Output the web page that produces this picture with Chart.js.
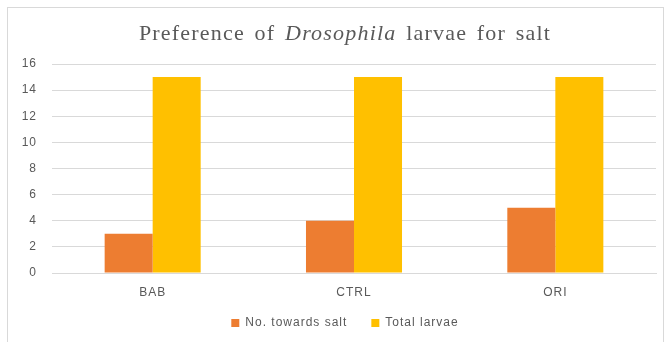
<!DOCTYPE html>
<html>
<head>
<meta charset="utf-8">
<script src="https://cdn.jsdelivr.net/npm/chart.js@4"></script>
<style>
  html, body { margin: 0; padding: 0; background: #fff; }
  #wrap { position: relative; width: 669px; height: 342px; overflow: hidden; }
  #frame { position: absolute; left: 7px; top: 7px; width: 657px; height: 345px;
           border: 1px solid #D9D9D9; box-sizing: border-box; }
  #title { position: absolute; left: 0; top: 20px; width: 690px; text-align: center;
           font-family: "Liberation Serif", "DejaVu Serif", serif; font-size: 22px;
           color: #595959; letter-spacing: 1.2px; word-spacing: 3px; white-space: nowrap; }
  canvas { position: absolute; left: 0; top: 0; }
</style>
</head>
<body>
<div id="wrap">
  <div id="frame"></div>
  <canvas id="c" width="669" height="342"></canvas>
  <div id="title">Preference of <i>Drosophila</i> larvae for salt</div>
</div>
<script>
const categories = ["BAB", "CTRL", "ORI"];
const towardsSalt = [3, 4, 5];
const totalLarvae = [15, 15, 15];
const yTicks = [0, 2, 4, 6, 8, 10, 12, 14, 16];

const tickFont = { family: "'Liberation Sans', Arial, sans-serif", size: 12 };
const LEGEND_TRIM = 7;

const tweaks = {
  id: "tweaks",
  // slightly wider letter spacing for every label drawn on the canvas
  beforeUpdate(chart) { chart.ctx.letterSpacing = "1px"; },
  beforeDraw(chart) { chart.ctx.letterSpacing = "1px"; },
  beforeLayout(chart) {
    // keep the wide gap between legend items without the extra height above them
    const lg = chart.legend;
    if (lg && !lg._trimmed) {
      const fit = lg.fit.bind(lg);
      lg.fit = function () { fit(); this.height -= LEGEND_TRIM; };
      lg._trimmed = true;
    }
  },
  afterLayout(chart) {
    const lg = chart.legend;
    lg.top -= LEGEND_TRIM;
    lg.bottom -= LEGEND_TRIM;
    // centre the legend row under the title
    lg.left += 13;
    lg.right += 13;
  }
};

new Chart(document.getElementById("c"), {
  type: "bar",
  data: {
    labels: categories,
    datasets: [
      { label: "No. towards salt", data: towardsSalt, backgroundColor: "#ED7D31",
        categoryPercentage: 0.477, barPercentage: 1 },
      { label: "Total larvae", data: totalLarvae, backgroundColor: "#FFC000",
        categoryPercentage: 0.477, barPercentage: 1 }
    ]
  },
  plugins: [tweaks],
  options: {
    responsive: false,
    animation: false,
    layout: { padding: { left: 8, right: 13, top: 64, bottom: 3 } },
    plugins: {
      title: { display: false },
      tooltip: { enabled: false },
      legend: {
        position: "bottom",
        labels: { boxWidth: 8, boxHeight: 8, color: "#595959", font: tickFont, padding: 24 }
      }
    },
    scales: {
      x: {
        afterFit: s => { s.height = 27; },
        grid: { display: false, drawTicks: false },
        border: { color: "#D9D9D9" },
        ticks: { color: "#595959", font: tickFont, padding: 12 }
      },
      y: {
        min: 0, max: 16,
        afterBuildTicks: s => { s.ticks = yTicks.map(v => ({ value: v })); },
        afterFit: s => { s.width = 44; },
        grid: { color: "#D9D9D9", drawTicks: false },
        border: { display: false },
        ticks: { color: "#595959", font: tickFont, padding: 15 }
      }
    }
  }
});
</script>
</body>
</html>
